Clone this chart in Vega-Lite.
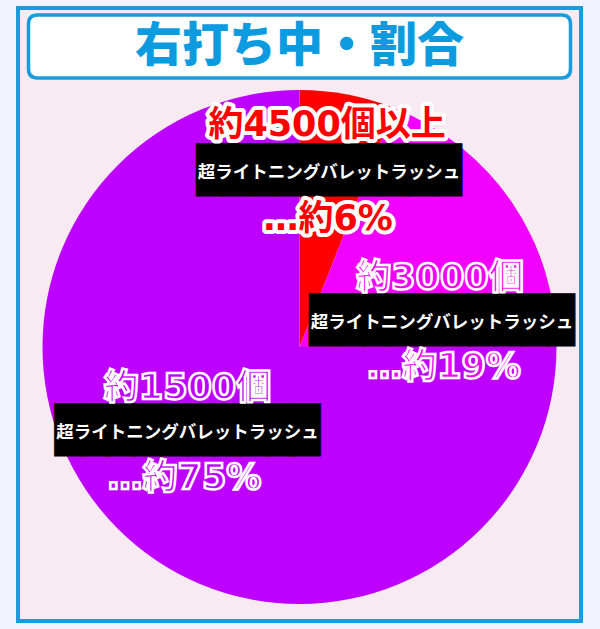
{
  "$schema": "https://vega.github.io/schema/vega-lite/v6.json",
  "width": 563,
  "height": 613,
  "autosize": "none",
  "padding": {"left": 18, "top": 8, "right": 19, "bottom": 8},
  "background": "#f1f4fc",
  "view": {"fill": "#f8eaf3", "stroke": "#1a9bdb", "strokeWidth": 4},
  "data": {
    "values": [
      {"k": "a", "idx": 1, "v": 6, "count": "約4500個以上", "name": "超ライトニングバレットラッシュ", "pct": "…約6%"},
      {"k": "b", "idx": 2, "v": 19, "count": "約3000個", "name": "超ライトニングバレットラッシュ", "pct": "…約19%"},
      {"k": "c", "idx": 3, "v": 75, "count": "約1500個", "name": "超ライトニングバレットラッシュ", "pct": "…約75%"}
    ]
  },
  "layer": [
    {
      "mark": {"type": "arc", "radius": 257, "yOffset": 32.5},
      "encoding": {
        "theta": {"field": "v", "type": "quantitative", "stack": true},
        "order": {"field": "idx"},
        "color": {"field": "k", "type": "nominal", "legend": null,
          "scale": {"domain": ["a", "b", "c"], "range": ["#ff0000", "#f200ff", "#bd00ff"]}}
      }
    },
    {
      "data": {"values": [{"t": "右打ち中・割合"}]},
      "layer": [
        {
          "mark": {"type": "point", "filled": true, "opacity": 1, "fill": "#ffffff", "stroke": "#1a9bdb", "strokeWidth": 3.5,
            "shape": "M-0.9668,-0.1162H0.9668Q1,-0.1162 1,-0.083V0.083Q1,0.1162 0.9668,0.1162H-0.9668Q-1,0.1162 -1,0.083V-0.083Q-1,-0.1162 -0.9668,-0.1162Z",
            "size": 293764, "yOffset": -268},
          "encoding": {}
        },
        {
          "mark": {"type": "text", "font": "Noto Sans CJK JP", "fontWeight": 900, "fontSize": 47, "fill": "#0d9be0",
            "baseline": "middle", "yOffset": -268},
          "encoding": {"text": {"field": "t"}}
        }
      ]
    },
    {
      "transform": [{"filter": "datum.k === 'a'"}],
      "encoding": {"theta": {"field": "v", "type": "quantitative", "stack": null}},
      "layer": [
        {"mark": {"type": "text", "font": "DejaVu Sans Mono", "fontSize": 44, "fill": "#000000", "stroke": "#000000", "strokeWidth": 1, "baseline": "middle", "radius": 170, "yOffset": 32.5, "dx": -33, "dy": -17, "text": "██████████"}},
        {"mark": {"type": "text", "font": "Noto Sans CJK JP", "fontWeight": "bold", "fontSize": 17.5, "fill": "#ffffff", "baseline": "middle", "radius": 170, "yOffset": 32.5, "dx": -33, "dy": -16},
         "encoding": {"text": {"field": "name"}}},
        {"mark": {"type": "text", "font": "DejaVu Sans, Noto Sans CJK JP", "fontWeight": "bold", "fontSize": 35, "fill": "#ffffff", "stroke": "#ffffff", "strokeWidth": 8, "strokeJoin": "round", "baseline": "middle", "radius": 170, "yOffset": 32.5, "dx": -35, "dy": -64},
         "encoding": {"text": {"field": "count"}}},
        {"mark": {"type": "text", "font": "DejaVu Sans, Noto Sans CJK JP", "fontWeight": "bold", "fontSize": 35, "fill": "#ff0000", "baseline": "middle", "radius": 170, "yOffset": 32.5, "dx": -35, "dy": -64},
         "encoding": {"text": {"field": "count"}}},
        {"mark": {"type": "text", "font": "DejaVu Sans, Noto Sans CJK JP", "fontWeight": "bold", "fontSize": 35, "fill": "#ffffff", "stroke": "#ffffff", "strokeWidth": 8, "strokeJoin": "round", "baseline": "middle", "radius": 170, "yOffset": 32.5, "dx": -34, "dy": 30},
         "encoding": {"text": {"field": "pct"}}},
        {"mark": {"type": "text", "font": "DejaVu Sans, Noto Sans CJK JP", "fontWeight": "bold", "fontSize": 35, "fill": "#ff0000", "baseline": "middle", "radius": 170, "yOffset": 32.5, "dx": -34, "dy": 30},
         "encoding": {"text": {"field": "pct"}}}
      ]
    },
    {
      "transform": [{"filter": "datum.k === 'b'"}],
      "encoding": {"theta": {"field": "v", "type": "quantitative", "stack": null}},
      "layer": [
        {"mark": {"type": "text", "font": "DejaVu Sans Mono", "fontSize": 44, "fill": "#000000", "stroke": "#000000", "strokeWidth": 1, "baseline": "middle", "radius": 150, "yOffset": 32.5, "dx": 3, "dy": 30, "text": "██████████"}},
        {"mark": {"type": "text", "font": "Noto Sans CJK JP", "fontWeight": "bold", "fontSize": 17.5, "fill": "#ffffff", "baseline": "middle", "radius": 150, "yOffset": 32.5, "dx": 3, "dy": 31},
         "encoding": {"text": {"field": "name"}}},
        {"mark": {"type": "text", "font": "DejaVu Sans, Noto Sans CJK JP", "fontWeight": "bold", "fontSize": 35, "fill": "#f000f0", "stroke": "#ffffff", "strokeWidth": 2.5, "baseline": "middle", "radius": 150, "yOffset": 32.5, "dx": 1, "dy": -14},
         "encoding": {"text": {"field": "count"}}},
        {"mark": {"type": "text", "font": "DejaVu Sans, Noto Sans CJK JP", "fontWeight": "bold", "fontSize": 35, "fill": "#f000f0", "stroke": "#ffffff", "strokeWidth": 2.5, "baseline": "middle", "radius": 150, "yOffset": 32.5, "dx": 5, "dy": 75},
         "encoding": {"text": {"field": "pct"}}}
      ]
    },
    {
      "transform": [{"filter": "datum.k === 'c'"}],
      "encoding": {"theta": {"field": "v", "type": "quantitative", "stack": null}},
      "layer": [
        {"mark": {"type": "text", "font": "DejaVu Sans Mono", "fontSize": 44, "fill": "#000000", "stroke": "#000000", "strokeWidth": 1, "baseline": "middle", "radius": 112, "yOffset": 32.5, "dx": 0, "dy": 85, "text": "██████████"}},
        {"mark": {"type": "text", "font": "Noto Sans CJK JP", "fontWeight": "bold", "fontSize": 17.5, "fill": "#ffffff", "baseline": "middle", "radius": 112, "yOffset": 32.5, "dx": 0, "dy": 86},
         "encoding": {"text": {"field": "name"}}},
        {"mark": {"type": "text", "font": "DejaVu Sans, Noto Sans CJK JP", "fontWeight": "bold", "fontSize": 35, "fill": "#bb00ff", "stroke": "#ffffff", "strokeWidth": 2.5, "baseline": "middle", "radius": 112, "yOffset": 32.5, "dx": 0, "dy": 41},
         "encoding": {"text": {"field": "count"}}},
        {"mark": {"type": "text", "font": "DejaVu Sans, Noto Sans CJK JP", "fontWeight": "bold", "fontSize": 35, "fill": "#bb00ff", "stroke": "#ffffff", "strokeWidth": 2.5, "baseline": "middle", "radius": 112, "yOffset": 32.5, "dx": -3, "dy": 131},
         "encoding": {"text": {"field": "pct"}}}
      ]
    }
  ]
}
